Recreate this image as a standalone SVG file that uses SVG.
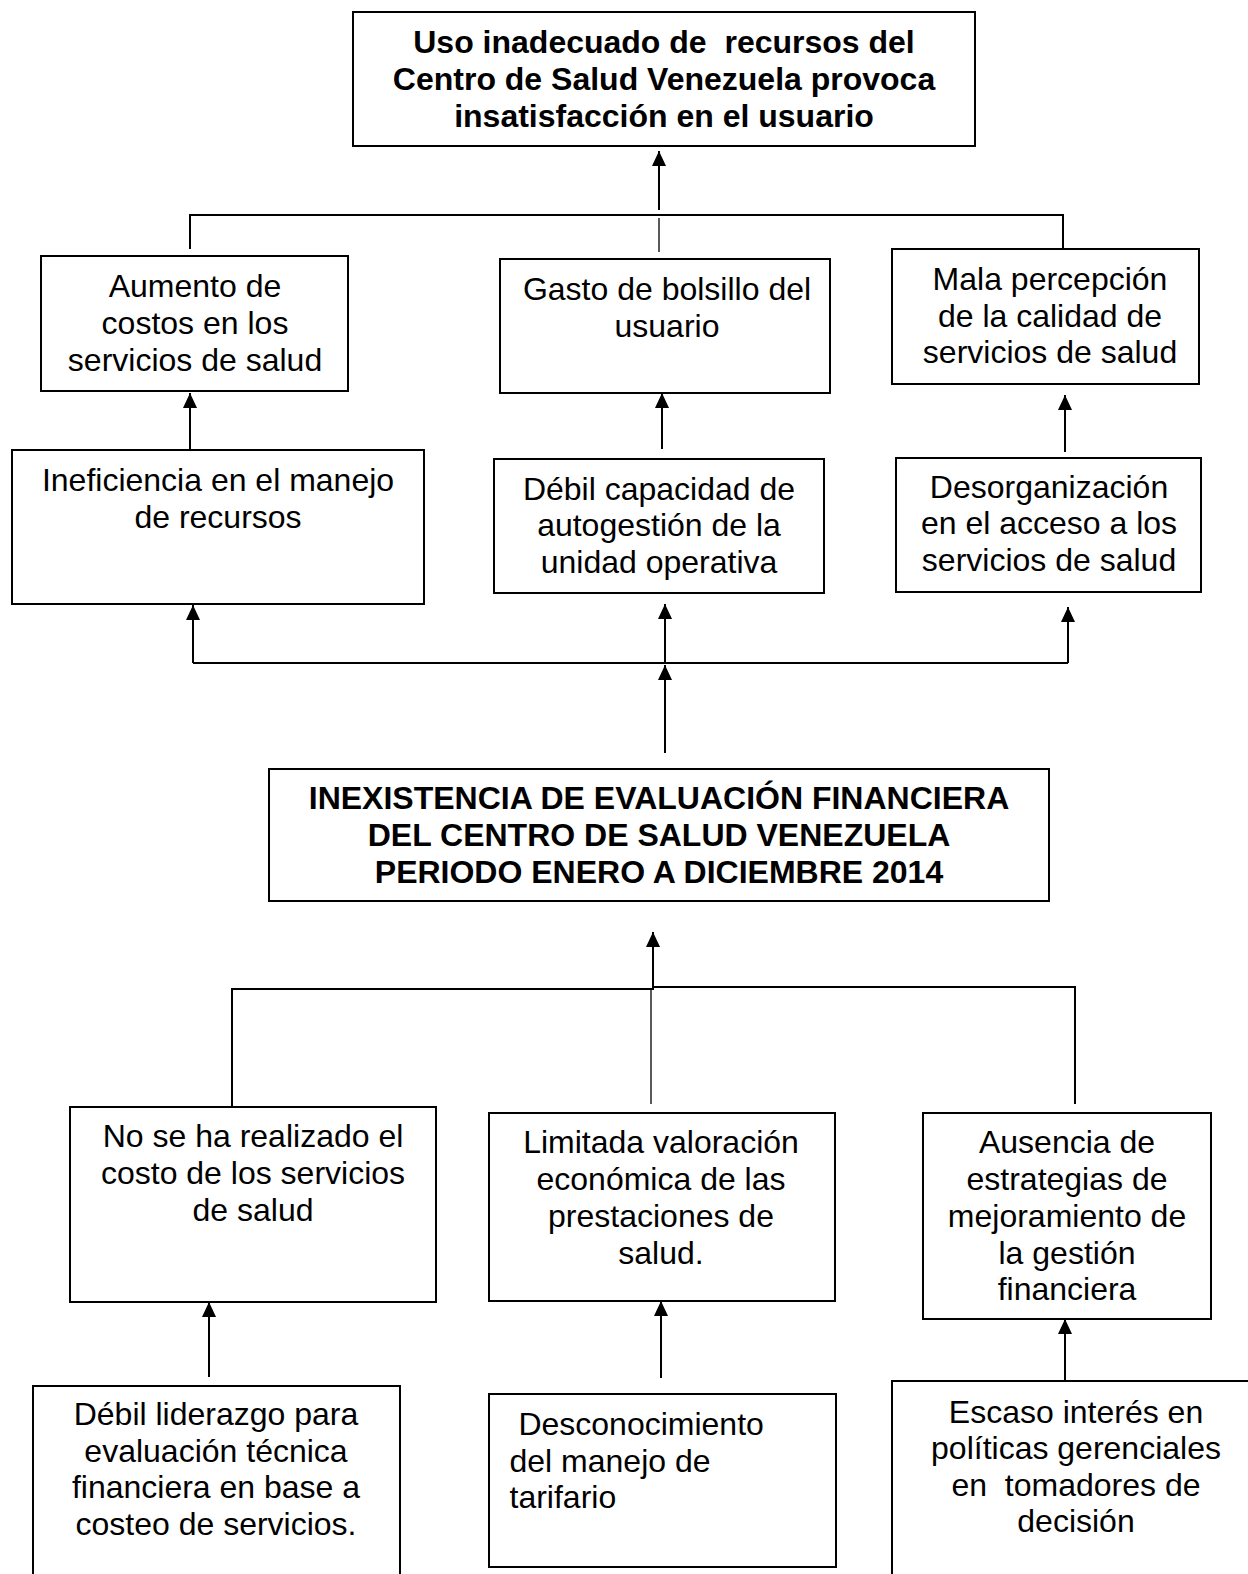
<svg xmlns="http://www.w3.org/2000/svg" width="1248" height="1574" viewBox="0 0 1248 1574">
<style>
.box{fill:#fff;stroke:#000;stroke-width:2}
.t{font-family:"Liberation Sans",Arial,sans-serif;font-size:32px;fill:#000;text-anchor:middle;white-space:pre}
.b{font-weight:bold}
.l{text-anchor:start}
.c{fill:none;stroke:#000;stroke-width:2}
.thin{stroke-width:1.3}
.a{marker-end:url(#ah)}
</style>
<defs>
<marker id="ah" markerUnits="userSpaceOnUse" markerWidth="15" markerHeight="14" refX="15" refY="7" orient="auto">
<path d="M0,0 L15,7 L0,14 z" fill="#000"/>
</marker>
</defs>
<rect width="1248" height="1574" fill="#fff"/>
<g id="connectors">
<line class="c a" x1="659" y1="210" x2="659" y2="151"/>
<polyline class="c" points="190,249 190,215 1063,215 1063,249"/>
<line class="c thin" x1="659" y1="218" x2="659" y2="252"/>
<line class="c a" x1="190" y1="450" x2="190" y2="393"/>
<line class="c a" x1="662" y1="449" x2="662" y2="393"/>
<line class="c a" x1="1065" y1="452" x2="1065" y2="395"/>
<line class="c" x1="193" y1="663" x2="1068" y2="663"/>
<line class="c a" x1="193" y1="663" x2="193" y2="605"/>
<line class="c a" x1="665" y1="663" x2="665" y2="604"/>
<line class="c a" x1="1068" y1="663" x2="1068" y2="607"/>
<line class="c a" x1="665" y1="753" x2="665" y2="665"/>
<line class="c a" x1="653" y1="990" x2="653" y2="932"/>
<polyline class="c" points="232,1107 232,989 653,989"/>
<polyline class="c" points="653,987 1075,987 1075,1104"/>
<line class="c thin" x1="651" y1="988" x2="651" y2="1104"/>
<line class="c a" x1="209" y1="1377" x2="209" y2="1302"/>
<line class="c a" x1="661" y1="1378" x2="661" y2="1301"/>
<line class="c a" x1="1065" y1="1380" x2="1065" y2="1319"/>
</g>
<g id="n-top">
<rect class="box" x="353" y="12" width="622" height="134"/>
<text class="t b"><tspan x="664" y="53">Uso inadecuado de  recursos del</tspan><tspan x="664" y="90">Centro de Salud Venezuela provoca</tspan><tspan x="664" y="127">insatisfacción en el usuario</tspan></text>
</g>
<g id="n-aumento">
<rect class="box" x="41" y="256" width="307" height="135"/>
<text class="t"><tspan x="195" y="297">Aumento de</tspan><tspan x="195" y="334">costos en los</tspan><tspan x="195" y="371">servicios de salud</tspan></text>
</g>
<g id="n-gasto">
<rect class="box" x="500" y="259" width="330" height="134"/>
<text class="t"><tspan x="667" y="300">Gasto de bolsillo del</tspan><tspan x="667" y="337">usuario</tspan></text>
</g>
<g id="n-mala">
<rect class="box" x="892" y="249" width="307" height="135"/>
<text class="t"><tspan x="1050" y="290">Mala percepción</tspan><tspan x="1050" y="327">de la calidad de</tspan><tspan x="1050" y="363">servicios de salud</tspan></text>
</g>
<g id="n-ineficiencia">
<rect class="box" x="12" y="450" width="412" height="154"/>
<text class="t"><tspan x="218" y="491">Ineficiencia en el manejo</tspan><tspan x="218" y="528">de recursos</tspan></text>
</g>
<g id="n-debil">
<rect class="box" x="494" y="459" width="330" height="134"/>
<text class="t"><tspan x="659" y="500">Débil capacidad de</tspan><tspan x="659" y="536">autogestión de la</tspan><tspan x="659" y="573">unidad operativa</tspan></text>
</g>
<g id="n-desorg">
<rect class="box" x="896" y="458" width="305" height="134"/>
<text class="t"><tspan x="1049" y="498">Desorganización</tspan><tspan x="1049" y="534">en el acceso a los</tspan><tspan x="1049" y="571">servicios de salud</tspan></text>
</g>
<g id="n-central">
<rect class="box" x="269" y="769" width="780" height="132"/>
<text class="t b"><tspan x="659" y="809">INEXISTENCIA DE EVALUACIÓN FINANCIERA</tspan><tspan x="659" y="846">DEL CENTRO DE SALUD VENEZUELA</tspan><tspan x="659" y="883">PERIODO ENERO A DICIEMBRE 2014</tspan></text>
</g>
<g id="n-costo">
<rect class="box" x="70" y="1107" width="366" height="195"/>
<text class="t"><tspan x="253" y="1147">No se ha realizado el</tspan><tspan x="253" y="1184">costo de los servicios</tspan><tspan x="253" y="1221">de salud</tspan></text>
</g>
<g id="n-limitada">
<rect class="box" x="489" y="1113" width="346" height="188"/>
<text class="t"><tspan x="661" y="1153">Limitada valoración</tspan><tspan x="661" y="1190">económica de las</tspan><tspan x="661" y="1227">prestaciones de</tspan><tspan x="661" y="1264">salud.</tspan></text>
</g>
<g id="n-ausencia">
<rect class="box" x="923" y="1113" width="288" height="206"/>
<text class="t"><tspan x="1067" y="1153">Ausencia de</tspan><tspan x="1067" y="1190">estrategias de</tspan><tspan x="1067" y="1227">mejoramiento de</tspan><tspan x="1067" y="1264">la gestión</tspan><tspan x="1067" y="1300">financiera</tspan></text>
</g>
<g id="n-liderazgo">
<rect class="box" x="33" y="1386" width="367" height="220"/>
<text class="t"><tspan x="216" y="1425">Débil liderazgo para</tspan><tspan x="216" y="1462">evaluación técnica</tspan><tspan x="216" y="1498">financiera en base a</tspan><tspan x="216" y="1535">costeo de servicios.</tspan></text>
</g>
<g id="n-desconocimiento">
<rect class="box" x="489" y="1394" width="347" height="173"/>
<text class="t l"><tspan x="509.5" y="1435"> Desconocimiento</tspan><tspan x="509.5" y="1472">del manejo de</tspan><tspan x="509.5" y="1508">tarifario</tspan></text>
</g>
<g id="n-escaso">
<rect class="box" x="892" y="1381" width="370" height="194"/>
<text class="t"><tspan x="1076" y="1423">Escaso interés en</tspan><tspan x="1076" y="1459">políticas gerenciales</tspan><tspan x="1076" y="1496">en  tomadores de</tspan><tspan x="1076" y="1532">decisión</tspan></text>
</g>
</svg>
